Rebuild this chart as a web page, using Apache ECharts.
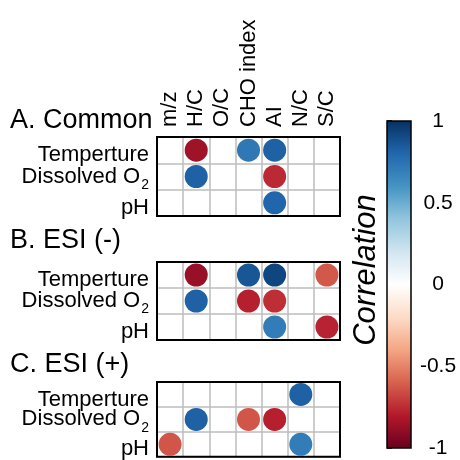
<!DOCTYPE html>
<html>
<head>
<meta charset="utf-8">
<script src="https://cdn.jsdelivr.net/npm/echarts@6/dist/echarts.min.js"></script>
<style>
html,body{margin:0;padding:0;background:#fff;}
#chart{width:460px;height:460px;}
</style>
</head>
<body>
<div id="chart"></div>
<script>
// ---- data ----
const variables = ['m/z', 'H/C', 'O/C', 'CHO index', 'AI', 'N/C', 'S/C'];
const factors = ['Temperture', 'Dissolved O2', 'pH'];
const panelTitles = ['A. Common', 'B. ESI (-)', 'C. ESI (+)'];
// rows follow factors, columns follow variables (null = not significant)
const commonValues = [
  [null, -0.85, null, 0.72, 0.82, null, null],
  [null, 0.82, null, null, -0.75, null, null],
  [null, null, null, null, 0.8, null, null]
];
const esiNegValues = [
  [null, -0.87, null, 0.86, 0.92, null, -0.62],
  [null, 0.82, null, -0.78, -0.74, null, null],
  [null, null, null, null, 0.7, null, -0.77]
];
const esiPosValues = [
  [null, null, null, null, null, 0.82, null],
  [null, 0.82, null, -0.63, -0.78, null, null],
  [-0.63, null, null, null, null, 0.7, null]
];
const colorbarTicks = [-1, -0.5, 0, 0.5, 1];
const palette = ['#67001F', '#B2182B', '#D6604D', '#F4A582', '#FDDBC7', '#FFFFFF',
                 '#D1E5F0', '#92C5DE', '#4393C3', '#2166AC', '#053061'];

// ---- chart ----
const panels = [commonValues, esiNegValues, esiPosValues];
const FONT = '"Liberation Sans", Arial, Helvetica, sans-serif';
const gridPos = [
  {left: 157, top: 137, width: 183, height: 79},
  {left: 157, top: 262, width: 183, height: 78},
  {left: 157, top: 382, width: 183, height: 77}
];
const titleTops = [107, 227, 351];

function toPoints(m) {
  const pts = [];
  m.forEach((row, r) => row.forEach((v, c) => { if (v !== null) pts.push([c, r, v]); }));
  return pts;
}

const grids = gridPos.map(g => Object.assign({show: true, borderColor: '#000', borderWidth: 2,
  backgroundColor: 'transparent', z: 1}, g));
grids.push({left: 387, top: 121, width: 24, height: 327});

const xAxes = panels.map((p, i) => ({
  type: 'category', gridIndex: i, data: variables, position: 'top',
  axisLine: {show: false}, axisTick: {show: false},
  splitLine: {show: true, lineStyle: {color: '#bdbdbd', width: 1.5}},
  axisLabel: {show: i === 0, rotate: -90, margin: 10, fontSize: 22, color: '#000', fontFamily: FONT, interval: 0}
}));
xAxes.push({type: 'value', gridIndex: 3, min: 0, max: 1, show: false});

const yAxes = panels.map((p, i) => ({
  type: 'category', gridIndex: i, data: factors, inverse: true,
  axisLine: {show: false}, axisTick: {show: false},
  splitLine: {show: true, lineStyle: {color: '#bdbdbd', width: 1.5}},
  axisLabel: {
    margin: 8, interval: 0, color: '#000',
    formatter: v => v === 'Dissolved O2' ? '{n|Dissolved O}{s|2}' : '{p|' + v + '}',
    rich: {
      n: {fontSize: 22, fontFamily: FONT, color: '#000'},
      s: {fontSize: 14, fontFamily: FONT, color: '#000', padding: [17, 0, 0, 1]},
      p: {fontSize: 22, fontFamily: FONT, color: '#000', padding: [10, 0, 0, 0]}
    }
  }
}));
yAxes.push({
  type: 'value', gridIndex: 3, min: -1, max: 1, interval: 0.5, position: 'right',
  axisLine: {show: false}, splitLine: {show: false},
  axisTick: {show: true, length: 5, lineStyle: {color: '#000', width: 1.5}},
  axisLabel: {margin: 27, align: 'center', fontSize: 21, color: '#000', fontFamily: FONT,
              formatter: v => String(v)},
  data: colorbarTicks
});

const series = panels.map((m, i) => ({
  type: 'scatter', xAxisIndex: i, yAxisIndex: i, symbolSize: 23,
  data: toPoints(m), itemStyle: {opacity: 1}, z: 3
}));
series.push({
  type: 'custom', xAxisIndex: 3, yAxisIndex: 3, data: [[0, -1]],
  renderItem: (params, api) => {
    const a = api.coord([0, 1]);
    const b = api.coord([1, -1]);
    const stops = palette.slice().reverse().map((c, k) => ({offset: k / (palette.length - 1), color: c}));
    return {
      type: 'rect',
      shape: {x: a[0], y: a[1], width: b[0] - a[0], height: b[1] - a[1]},
      style: {fill: new echarts.graphic.LinearGradient(0, 0, 0, 1, stops), stroke: '#000', lineWidth: 1.5}
    };
  },
  silent: true
});

const option = {
  animation: false,
  backgroundColor: '#fff',
  title: panelTitles.map((t, i) => ({
    text: t, left: 10, top: titleTops[i], padding: 0,
    textStyle: {fontSize: 27, fontWeight: 'normal', color: '#000', fontFamily: FONT}
  })),
  grid: grids,
  xAxis: xAxes,
  yAxis: yAxes,
  visualMap: {
    show: false, type: 'continuous', min: -1, max: 1, dimension: 2,
    seriesIndex: [0, 1, 2], inRange: {color: palette}
  },
  graphic: [{
    type: 'text', x: 366, y: 270, rotation: Math.PI / 2,
    style: {text: 'Correlation', fontSize: 31, fontStyle: 'italic', fontFamily: FONT,
            fill: '#000', align: 'center', verticalAlign: 'middle'}
  }],
  series: series
};

const chart = echarts.init(document.getElementById('chart'), null, {renderer: 'canvas'});
chart.setOption(option);
</script>
</body>
</html>
